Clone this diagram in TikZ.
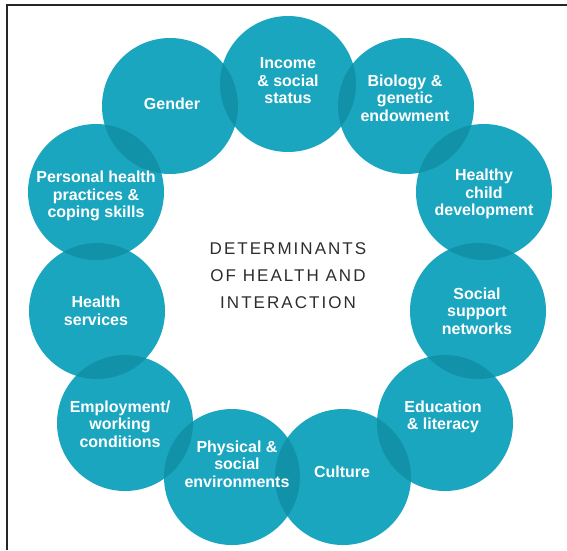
\documentclass[tikz,border=0pt]{standalone}
\usepackage{fontspec}
\setmainfont{Liberation Sans}
\usepackage{tikz}

\definecolor{ringteal}{RGB}{27,166,191}
\definecolor{lensteal}{RGB}{17,146,168}
\definecolor{titlegray}{RGB}{45,45,45}

\begin{document}
\begin{tikzpicture}[x=1pt,y=-1pt,
    disc/.style={circle,fill=ringteal,inner sep=0pt,minimum size=136pt},
    lbl/.style={text=white,font=\bfseries\fontsize{16}{17.5}\selectfont,align=center,inner sep=0pt}]
                \useasboundingbox (0,0) rectangle (567,550);
                \draw[line width=2pt,black!85] (7,550) -- (7,5) -- (567,5);

                \node[disc] (income) at (288, 84) {};
                \node[disc] (biology) at (406, 106) {};
                \node[disc] (healthy) at (484, 192) {};
                \node[disc] (social) at (478, 311) {};
                \node[disc] (education) at (445, 423) {};
                \node[disc] (culture) at (343, 477) {};
                \node[disc] (physical) at (232, 477) {};
                \node[disc] (employment) at (125, 423) {};
                \node[disc] (services) at (97, 311) {};
                \node[disc] (personal) at (96, 192) {};
                \node[disc] (gender) at (170, 106) {};

                \foreach \a/\b in {income/biology,biology/healthy,healthy/social,social/education,
                                   education/culture,culture/physical,physical/employment,
                                   employment/services,services/personal,personal/gender,gender/income}
                {
                    \begin{scope}
                        \clip (\a.center) circle[radius=68pt];
                        \fill[lensteal] (\b.center) circle[radius=68pt];
                    \end{scope}
                }

                \node[lbl] (income-t) at (288, 81) {Income\\\& social\\status};
                \node[lbl] (biology-t) at (405, 98) {Biology \&\\genetic\\endowment};
                \node[lbl] (healthy-t) at (484, 194) {Healthy\\child\\development};
                \node[lbl] (social-t) at (477, 311) {Social\\support\\networks};
                \node[lbl] (education-t) at (443, 417) {Education\\\& literacy};
                \node[lbl] (culture-t) at (342, 472) {Culture};
                \node[lbl] (physical-t) at (237, 464) {Physical \&\\social\\environments};
                \node[lbl] (employment-t) at (120, 424) {Employment/\\working\\conditions};
                \node[lbl] (services-t) at (96, 311) {Health\\services};
                \node[lbl] (personal-t) at (96, 196) {Personal health\\practices \&\\coping skills};
                \node[lbl] (gender-t) at (172, 104) {Gender};

                \node[text=titlegray,align=center,inner sep=0pt,
                      font=\fontsize{17}{27}\selectfont\addfontfeature{LetterSpace=12}] (title) at (288, 276)
                      {DETERMINANTS\\OF HEALTH AND\\INTERACTION};
\end{tikzpicture}
\end{document}
